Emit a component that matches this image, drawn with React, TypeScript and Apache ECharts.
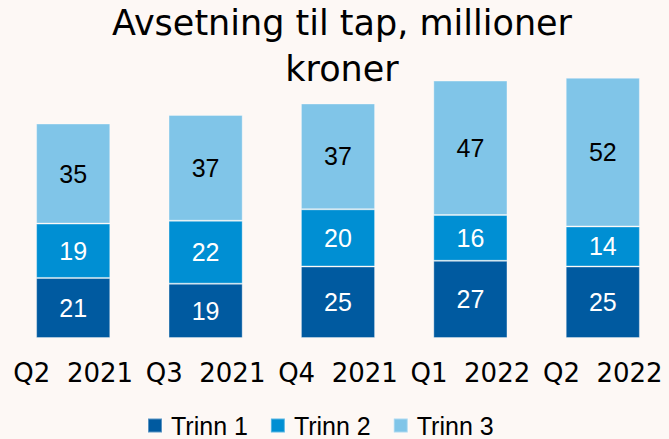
import React, { useEffect, useRef } from "react";
import * as echarts from "echarts";

const categories = ["Q2  2021", "Q3  2021", "Q4  2021", "Q1  2022", "Q2  2022"];
const trinn1 = [21, 19, 25, 27, 25];
const trinn2 = [19, 22, 20, 16, 14];
const trinn3 = [35, 37, 37, 47, 52];
const seriesNames = ["Trinn 1", "Trinn 2", "Trinn 3"];
const colors = ["#005AA0", "#008FD3", "#80C5E8"];
const labelColors = ["#ffffff", "#ffffff", "#000000"];

export default function App() {
  const ref = useRef<HTMLDivElement>(null);
  useEffect(() => {
    if (!ref.current) return;
    const chart = echarts.init(ref.current, null, { renderer: "svg" });
    const data = [trinn1, trinn2, trinn3];
    chart.setOption({
      animation: false,
      backgroundColor: "#FDF8F5",
      title: {
        text: "Avsetning til tap, millioner\nkroner",
        left: 342,
        top: 0,
        padding: 0,
        textAlign: "center",
        textStyle: {
          fontFamily: "DejaVu Sans",
          fontWeight: "normal",
          fontSize: 35,
          lineHeight: 46,
          color: "#000000",
        },
      },
      legend: {
        top: 413,
        left: 147,
        padding: 0,
        itemWidth: 14,
        itemHeight: 14,
        itemGap: 22,
        icon: "rect",
        textStyle: {
          fontFamily: "Liberation Sans",
          fontSize: 25,
          lineHeight: 25,
          color: "#000",
          padding: [0, 0, 0, 4],
        },
        data: seriesNames,
      },
      grid: { left: 7, right: 0, top: 52, bottom: 101 },
      xAxis: {
        type: "category",
        data: categories,
        axisLine: { show: false },
        axisTick: { show: false },
        axisLabel: {
          fontFamily: "DejaVu Sans",
          fontSize: 26,
          color: "#000",
          margin: 22,
          interval: 0,
        },
      },
      yAxis: { type: "value", min: 0, max: 100, show: false, splitLine: { show: false } },
      series: seriesNames.map((name, i) => ({
        name,
        type: "bar",
        stack: "total",
        barWidth: "56%",
        data: data[i],
        itemStyle: { color: colors[i], borderColor: "rgba(255,255,255,0.35)", borderWidth: 1 },
        label: {
          show: true,
          position: "inside",
          fontFamily: "Liberation Sans",
          fontSize: 25,
          color: labelColors[i],
        },
      })),
    });
    return () => chart.dispose();
  }, []);
  return <div ref={ref} style={{ width: 669, height: 439, position: "absolute", left: 0, top: 0 }} />;
}
